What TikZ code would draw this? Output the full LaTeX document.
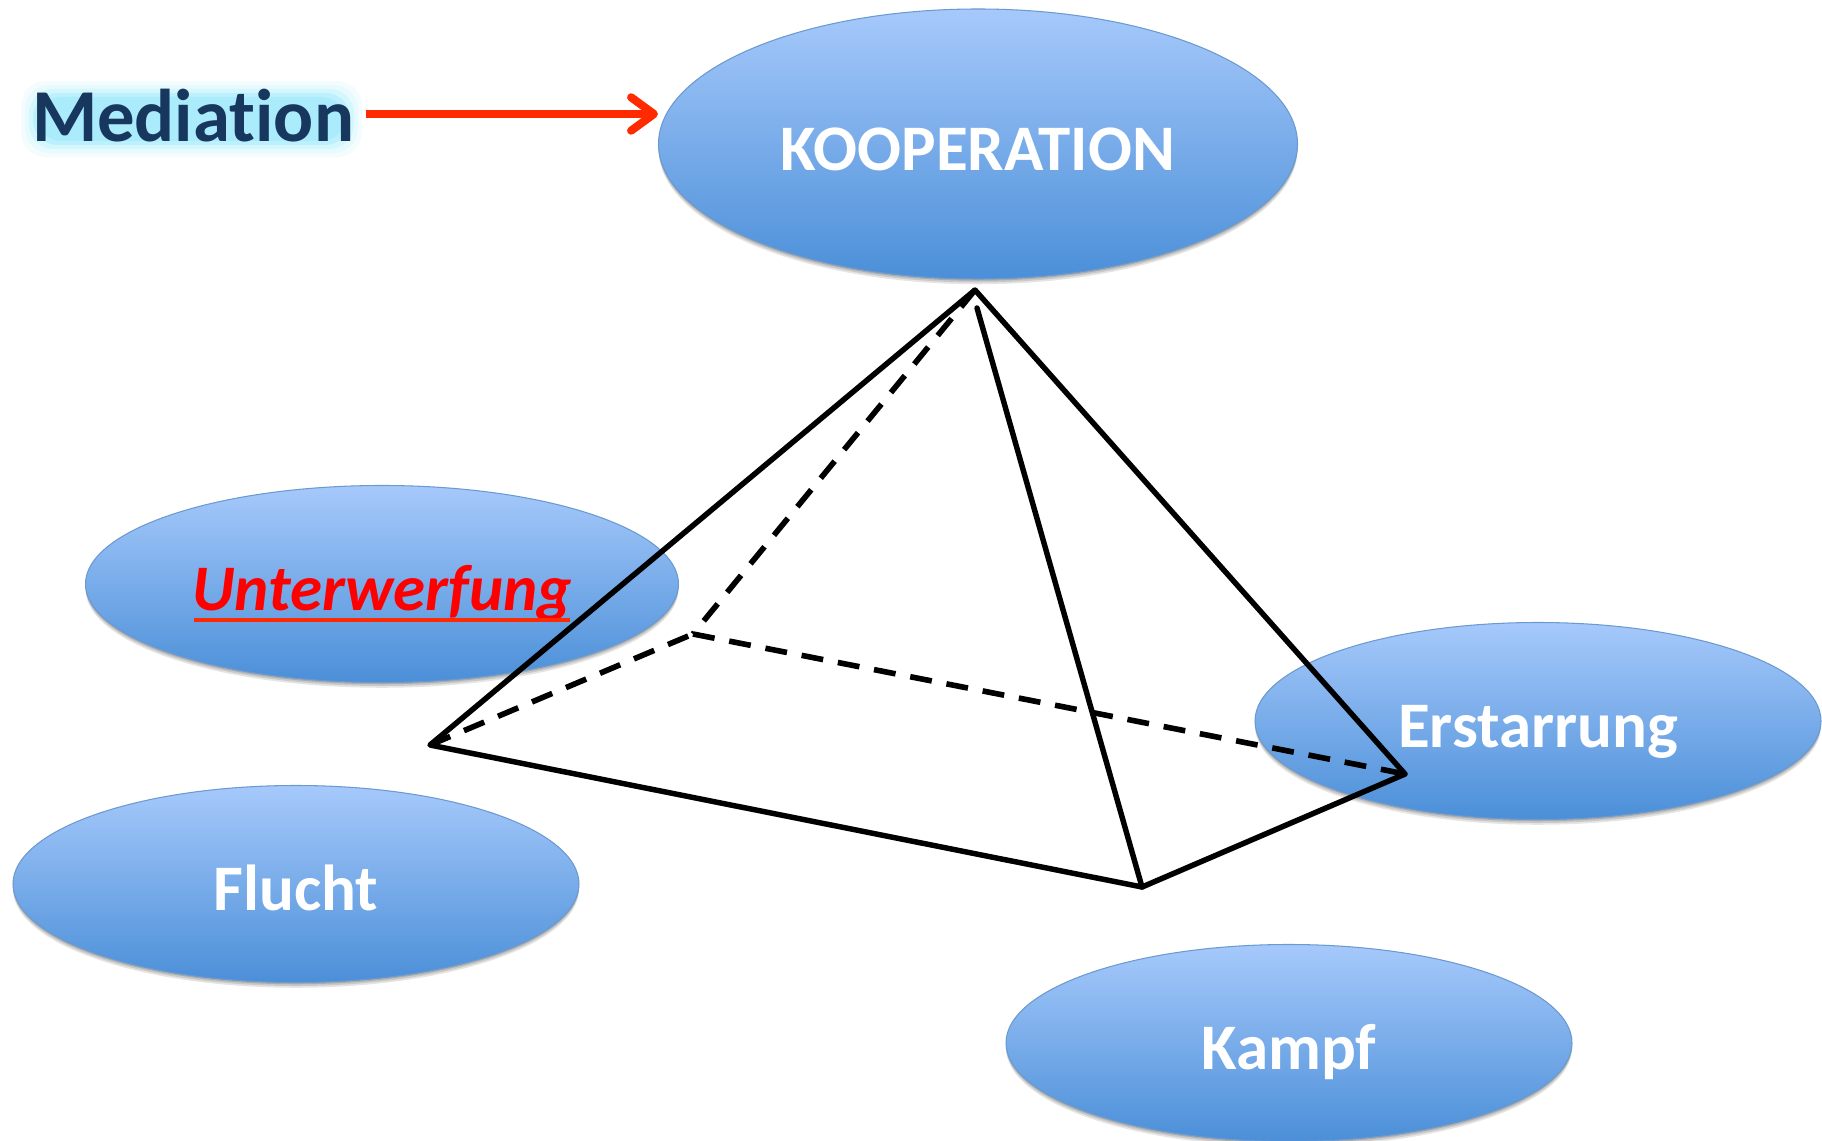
\documentclass[tikz,border=0pt]{standalone}
\usepackage{fontspec}
\setmainfont[Ligatures=NoCommon]{Carlito}
\usetikzlibrary{arrows.meta, shapes.geometric, shadows}

\definecolor{blobtop}{HTML}{A6C9FB}
\definecolor{blobbottom}{HTML}{4B8FD8}
\definecolor{blobline}{HTML}{6A9AD0}
\definecolor{navytext}{HTML}{17375E}
\definecolor{glowcyan}{HTML}{A0EAFB}
\definecolor{arrowred}{HTML}{FF2A00}

\begin{document}
\begin{tikzpicture}[
    x=0.02cm,
    y=-0.02cm,
    blob/.style={
        ellipse,
        draw=blobline,
        line width=0.6pt,
        top color=blobtop,
        bottom color=blobbottom,
        inner sep=0pt,
        minimum width=566*0.02cm,
        minimum height=197*0.02cm,
        text=white,
        text height=30.4pt,
        text depth=0pt,
        font=\bfseries\fontsize{37}{37}\selectfont,
        drop shadow={shadow xshift=0pt, shadow yshift=-3pt, opacity=0.10, fill=black},
        drop shadow={shadow xshift=0pt, shadow yshift=-2pt, opacity=0.12, fill=black},
        drop shadow={shadow xshift=0pt, shadow yshift=-1pt, opacity=0.15, fill=black},
    },
    softshadow/.style={preaction={draw=black, opacity=0.22, transform canvas={xshift=0.4pt, yshift=-1.4pt}}},
    edgeline/.style={line width=3.1pt, line join=round, line cap=round, softshadow},
    hiddenline/.style={line width=3.2pt, dash pattern=on 12.5pt off 8.5pt},
]
    \useasboundingbox (0,0) rectangle (1822,1141);

    % glow behind the label
    \foreach \grow/\shade in {16/12, 12/25, 8/45, 4/70, 0/90}
        \fill[glowcyan!\shade!white, rounded corners=14pt]
            (37-\grow,97-\grow) rectangle (346+\grow,141+\grow);

    \node[font=\bfseries\fontsize{42.5}{42.5}\selectfont, text=navytext, inner sep=0pt] (mediation) at (193,116) {Mediation};

    \node[blob, minimum width=639*0.02cm, minimum height=270*0.02cm] (kooperation) at (978,144) {KOOPERATION};
    \node[blob, minimum width=593*0.02cm, text=red, font=\bfseries\itshape\fontsize{37}{37}\selectfont] (unterwerfung) at (382,584) {Unterwerfung};
    \node[blob] (flucht)     at (296,884) {Flucht};
    \node[blob] (erstarrung) at (1538,721) {Erstarrung};
    \node[blob] (kampf)      at (1289,1043) {Kampf};

    \coordinate (underleft)  at (194,620);
    \coordinate (underright) at (570,620);
    \draw[arrowred, line width=2.4pt] (underleft) -- (underright);

    \coordinate (arrowstart) at (366,114);
    \draw[arrowred, line width=4.6pt, softshadow, -{Straight Barb[length=13pt, width=19pt, line width=4.6pt, round]}] (arrowstart) -- (kooperation.west |- arrowstart);

    \coordinate (apex)  at (975,290);
    \coordinate (inner) at (977,308);
    \coordinate (left)  at (430,745);
    \coordinate (front) at (1142,887);
    \coordinate (right) at (1405,774);
    \coordinate (back)  at (693,634);

    \draw[hiddenline] (apex) -- (back);
    \draw[hiddenline] (left) -- (back);
    \draw[hiddenline] (back) -- (right);

    \draw[edgeline] (right) -- (apex) -- (left) -- (front) -- (right);
    \draw[edgeline] (inner) -- (front);
\end{tikzpicture}
\end{document}
